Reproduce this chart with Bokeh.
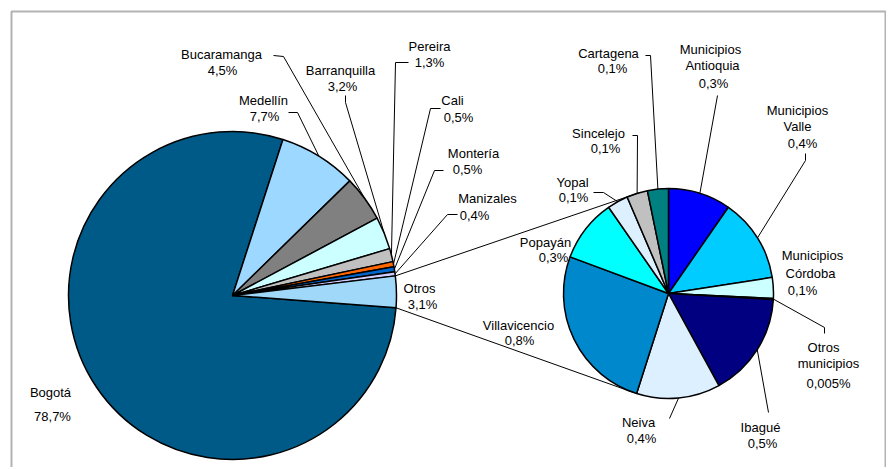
import numpy as np
from bokeh.plotting import figure
from bokeh.models import Range1d, BoxAnnotation, ColumnDataSource
from bokeh.core.properties import value
from bokeh.embed import file_html
from bokeh.resources import INLINE

# ---------------- data ----------------
main_names = ["Bogotá", "Medellín", "Bucaramanga", "Barranquilla", "Pereira",
              "Cali", "Montería", "Manizales", "Otros"]
main_values = [78.7, 7.7, 4.5, 3.2, 1.3, 0.5, 0.5, 0.4, 3.1]
main_colors = ["#005A88", "#9CD8FF", "#808080", "#CCFFFF", "#C0C0C0",
               "#FF6600", "#0066CC", "#CCCCFF", "#A0D8FA"]

sub_names = ["Municipios\nAntioquia", "Municipios\nValle", "Municipios\nCórdoba",
             "Otros\nmunicipios", "Ibagué", "Neiva", "Villavicencio", "Popayán",
             "Yopal", "Sincelejo", "Cartagena"]
sub_values = [0.3, 0.4, 0.1, 0.005, 0.5, 0.4, 0.8, 0.3, 0.1, 0.1, 0.1]
sub_colors = ["#0000FF", "#00CCFF", "#CCFFFF", "#CCFFCC", "#000080", "#DDF0FF",
              "#0088CC", "#00FFFF", "#DDF0FF", "#C0C0C0", "#008080"]

# ---------------- layout (page pixel coordinates) ----------------
PAGE_H = 469
FIG_W, FIG_H = 886, 467
MAIN_C, MAIN_R, MAIN_START = (232, 295), 164, -4.3
SUB_C, SUB_R, SUB_START = (668, 293), 105, 90.0
CONNECT_ANGLES = (105.5, -109.0)

main_name_xy = [[(50, 392)], [(263, 100)], [(221, 54)], [(340, 70)], [(429, 46)],
                [(452, 100)], [(473, 153)], [(487, 198)], [(419, 288)]]
main_pct_xy = [(52, 416), (264, 116), (222, 70), (342, 86), (429, 62),
               (458, 117), (467, 169), (474, 215), (422, 304)]
main_leaders = [None, [(288, 112), (297, 112)], [(273, 55), (283, 56)],
                [(345, 95), (345, 102)], [(408, 62), (395, 62)],
                [(440, 108), (430, 108)], [(443, 170), (434, 170)],
                [(457, 214), (447, 214)], None]

sub_name_xy = [[(710, 49), (712, 65)], [(797, 110), (797, 126)],
               [(812, 255), (810, 273)], [(823, 347), (828, 363)],
               [(760, 427)], [(638, 422)], [(518, 325)], [(545, 242)],
               [(572, 182)], [(598, 133)], [(608, 53)]]
sub_pct_xy = [(713, 83), (802, 143), (802, 290), (828, 383), (762, 443),
              (641, 438), (519, 340), (553, 257), (573, 197), (605, 148), (612, 68)]
sub_leaders = [[(717, 95)], [(805, 153), (805, 160)], None, [(824, 333), (824, 327)],
               [(768, 412)], [(669, 418)], None, None, [(593, 192), (603, 192)],
               [(632, 135), (637, 135)], [(645, 55), (650, 55)]]

FONT = value("Liberation Sans")


def Y(py):
    return PAGE_H - py


def pct(v):
    s = f"{v:.1f}" if v >= 0.05 else f"{v:.3f}"
    return s.replace(".", ",") + "%"


def wedge_angles(vals, start_deg):
    v = np.array(vals, dtype=float)
    frac = v / v.sum() * 2 * np.pi
    cum = np.concatenate([[0.0], np.cumsum(frac)])
    s = np.radians(start_deg)
    hi = s - cum[:-1]
    lo = s - cum[1:]
    return lo, hi


p = figure(width=FIG_W, height=FIG_H, x_range=Range1d(0, FIG_W),
           y_range=Range1d(PAGE_H - FIG_H, PAGE_H),
           output_backend="svg", toolbar_location=None, x_axis_type=None,
           y_axis_type=None, min_border=0)
p.grid.visible = False
p.outline_line_color = None
p.background_fill_color = "white"

lx, ly, tx, ty, tt = [], [], [], [], []


def draw_pie(names, vals, colors, center, r, start, name_xy, pct_xy, leaders):
    lo, hi = wedge_angles(vals, start)
    cx, cy = center[0], Y(center[1])
    src = ColumnDataSource(dict(lo=lo, hi=hi, color=colors))
    p.wedge(x=cx, y=cy, radius=r, start_angle="lo", end_angle="hi",
            fill_color="color", line_color="black", line_width=1.5, source=src)
    mid = (lo + hi) / 2
    for i, n in enumerate(names):
        for line, (x, y) in zip(n.split("\n"), name_xy[i]):
            tx.append(x); ty.append(Y(y)); tt.append(line)
        x, y = pct_xy[i]
        tx.append(x); ty.append(Y(y)); tt.append(pct(vals[i]))
        if leaders[i]:
            xs = [q[0] for q in leaders[i]] + [cx + r * np.cos(mid[i])]
            ys = [Y(q[1]) for q in leaders[i]] + [cy + r * np.sin(mid[i])]
            lx.append(xs); ly.append(ys)
    return lo, hi


m_lo, m_hi = draw_pie(main_names, main_values, main_colors, MAIN_C, MAIN_R, MAIN_START,
                      main_name_xy, main_pct_xy, main_leaders)
draw_pie(sub_names, sub_values, sub_colors, SUB_C, SUB_R, SUB_START,
         sub_name_xy, sub_pct_xy, sub_leaders)

# connector lines from the "Otros" slice to the secondary pie
k = main_names.index("Otros")
for a_main, a_sub in ((m_hi[k], CONNECT_ANGLES[0]), (m_lo[k], CONNECT_ANGLES[1])):
    x0 = MAIN_C[0] + MAIN_R * np.cos(a_main)
    y0 = Y(MAIN_C[1]) + MAIN_R * np.sin(a_main)
    x1 = SUB_C[0] + SUB_R * np.cos(np.radians(a_sub))
    y1 = Y(SUB_C[1]) + SUB_R * np.sin(np.radians(a_sub))
    lx.append([x0, x1]); ly.append([y0, y1])

p.multi_line(xs=lx, ys=ly, line_color="black", line_width=1)
p.text(x=tx, y=ty, text=tt, text_align="center", text_baseline="middle",
       text_font=FONT, text_font_size="13px", text_color="black")

p.add_layout(BoxAnnotation(left=11, right=885, top=Y(11), bottom=-20,
                           fill_alpha=0, line_color="black", line_width=2))

open("out.html", "w").write(file_html(p, INLINE))
